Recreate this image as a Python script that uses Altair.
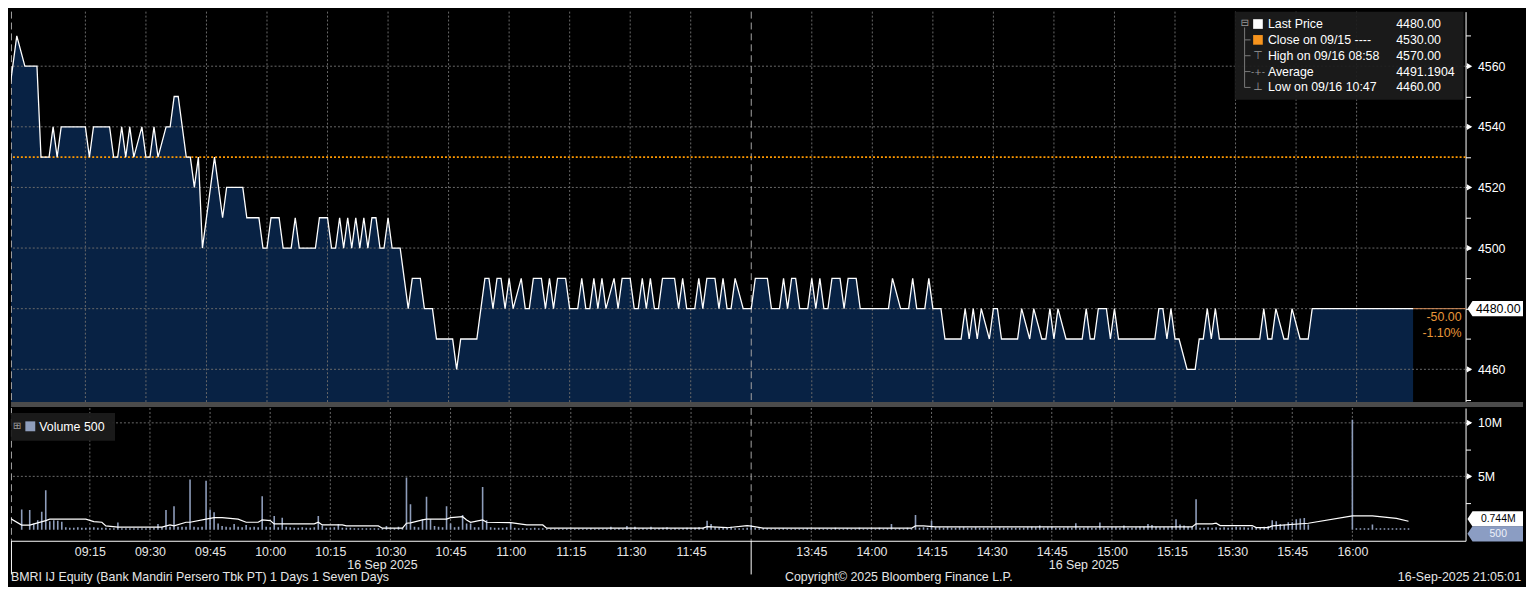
import altair as alt
import pandas as pd

FONT = "Liberation Sans"
SYM = "DejaVu Sans"

# ---------------- price (last price, breakpoints of the 1-minute line) ----------------
am_times = ["08:54", "08:58", "09:00", "09:03", "09:04", "09:06", "09:07", "09:08", "09:09", "09:15",
            "09:16", "09:17", "09:21", "09:22", "09:23", "09:24", "09:25", "09:26", "09:27", "09:29",
            "09:30", "09:31", "09:32", "09:33", "09:35", "09:36", "09:37", "09:38", "09:40", "09:41",
            "09:42", "09:43", "09:44", "09:47", "09:49", "09:50", "09:54", "09:55", "09:58", "09:59",
            "10:00", "10:01", "10:03", "10:04", "10:06", "10:07", "10:08", "10:12", "10:13", "10:15",
            "10:16", "10:17", "10:18", "10:19", "10:20", "10:21", "10:22", "10:23", "10:24", "10:25",
            "10:26", "10:27", "10:28", "10:29", "10:30", "10:31", "10:33", "10:35", "10:36", "10:38",
            "10:39", "10:41", "10:42", "10:46", "10:47", "10:48", "10:52", "10:54", "10:55", "10:56",
            "10:57", "10:58", "10:59", "11:00", "11:01", "11:03", "11:04", "11:05", "11:06", "11:08",
            "11:09", "11:10", "11:11", "11:12", "11:14", "11:15", "11:17", "11:18", "11:19", "11:20",
            "11:21", "11:22", "11:23", "11:24", "11:26", "11:27", "11:28", "11:30", "11:31", "11:32",
            "11:33", "11:34", "11:35", "11:36", "11:37", "11:38", "11:41", "11:42", "11:43", "11:44",
            "11:46", "11:47", "11:48", "11:49", "11:51", "11:52", "11:53", "11:54", "11:55", "11:56",
            "11:58", "11:59"]
am_prices = [4530, 4570, 4560, 4560, 4530, 4530, 4540, 4530, 4540, 4540,
             4530, 4540, 4540, 4530, 4530, 4540, 4530, 4540, 4530, 4540,
             4530, 4530, 4540, 4530, 4540, 4540, 4550, 4550, 4530, 4530,
             4520, 4530, 4500, 4530, 4510, 4520, 4520, 4510, 4510, 4500,
             4500, 4510, 4510, 4500, 4500, 4510, 4500, 4500, 4510, 4510,
             4500, 4500, 4510, 4500, 4510, 4500, 4510, 4500, 4510, 4500,
             4510, 4510, 4500, 4500, 4510, 4500, 4500, 4480, 4490, 4490,
             4480, 4480, 4470, 4470, 4460, 4470, 4470, 4490, 4490, 4480,
             4490, 4490, 4480, 4490, 4480, 4490, 4480, 4480, 4490, 4490,
             4480, 4490, 4480, 4490, 4490, 4480, 4480, 4490, 4480, 4480,
             4490, 4480, 4490, 4480, 4490, 4480, 4490, 4490, 4480, 4480,
             4490, 4480, 4490, 4480, 4480, 4490, 4490, 4480, 4490, 4480,
             4480, 4490, 4480, 4490, 4490, 4480, 4490, 4480, 4480, 4490,
             4480, 4480]
pm_times = ["13:30", "13:31", "13:34", "13:35", "13:37", "13:38", "13:39", "13:40", "13:41", "13:42",
            "13:44", "13:45", "13:46", "13:47", "13:48", "13:49", "13:50", "13:52", "13:53", "13:54",
            "13:56", "13:57", "14:04", "14:05", "14:07", "14:09", "14:10", "14:11", "14:13", "14:14",
            "14:15", "14:17", "14:18", "14:22", "14:23", "14:24", "14:25", "14:26", "14:27", "14:29",
            "14:30", "14:31", "14:32", "14:36", "14:37", "14:39", "14:40", "14:42", "14:43", "14:44",
            "14:45", "14:46", "14:48", "14:52", "14:53", "14:54", "14:55", "14:56", "14:58", "14:59",
            "15:00", "15:01", "15:10", "15:11", "15:12", "15:13", "15:14", "15:15", "15:16", "15:18",
            "15:20", "15:21", "15:22", "15:23", "15:24", "15:25", "15:26", "15:36", "15:37", "15:38",
            "15:39", "15:40", "15:42", "15:43", "15:44", "15:46", "15:48", "15:49", "16:14"]
pm_prices = [4480, 4490, 4490, 4480, 4480, 4490, 4480, 4490, 4490, 4480,
             4480, 4490, 4480, 4490, 4480, 4480, 4490, 4490, 4480, 4490,
             4490, 4480, 4480, 4490, 4480, 4480, 4490, 4480, 4480, 4490,
             4480, 4480, 4470, 4470, 4480, 4470, 4480, 4470, 4480, 4470,
             4480, 4480, 4470, 4470, 4480, 4470, 4480, 4470, 4470, 4480,
             4470, 4480, 4470, 4470, 4480, 4470, 4470, 4480, 4480, 4470,
             4480, 4470, 4470, 4480, 4480, 4470, 4480, 4470, 4470, 4460,
             4460, 4470, 4470, 4480, 4470, 4480, 4470, 4470, 4480, 4470,
             4470, 4480, 4470, 4470, 4480, 4470, 4470, 4480, 4480]
prev_close = 4530
last_price = 4480
last_price_label = "4480.00"
change_texts = ["-50.00", "-1.10%"]

# ---------------- volume (millions of shares per minute) ----------------
vol_am_start = "08:58"
vol_am = [1.9, 0.0,
          1.85, 0.6, 0.9, 1.7, 3.7, 0.8, 0.9, 0.85, 0.75, 0.25, 0.2, 0.2, 0.25, 0.2, 0.2,
          0.2, 0.25, 0.2, 0.2, 0.2, 0.15, 0.15, 0.68, 0.15, 0.15, 0.15, 0.15, 0.15, 0.15, 0.15,
          0.15, 0.2, 0.55, 0.25, 1.85, 0.3, 2.2, 0.3, 0.3, 0.3, 4.7, 0.3, 0.25, 0.3, 4.6,
          1.9, 1.65, 0.6, 0.37, 0.3, 0.25, 0.55, 0.3, 0.25, 0.45, 0.25, 0.3, 0.25, 3.15, 0.3,
          0.25, 1.3, 0.25, 1.14, 0.3, 0.25, 0.2, 0.2, 0.25, 0.2, 0.2, 0.25, 1.3, 0.4, 0.2,
          0.2, 0.25, 0.55, 0.2, 0.2, 0.2, 0.15, 0.15, 0.15, 0.15, 0.15, 0.15, 0.15, 0.15, 0.35,
          0.15, 0.15, 0.3, 0.2, 4.9, 2.4, 0.3, 0.25, 1.0, 3.1, 1.0, 0.35, 0.3, 0.25, 2.2,
          0.6, 0.25, 0.3, 1.4, 0.6, 0.6, 0.25, 0.25, 4.0, 0.9, 0.25, 0.2, 0.2, 0.2, 0.25,
          0.65, 0.2, 0.15, 0.15, 0.15, 0.15, 0.2, 0.15, 0.15, 0.1, 0.1, 0.1, 0.1, 0.1, 0.1,
          0.1, 0.1, 0.1, 0.1, 0.1, 0.15, 0.1, 0.1, 0.1, 0.1, 0.3, 0.1, 0.15, 0.1, 0.35,
          0.1, 0.3, 0.1, 0.15, 0.1, 0.3, 0.1, 0.15, 0.2, 0.25, 0.1, 0.15, 0.1, 0.15, 0.2,
          0.15, 0.2, 0.25, 0.2, 0.86, 0.55, 0.25, 0.2, 0.2, 0.2, 0.3, 0.15, 0.15, 0.15, 0.2]
vol_pm_start = "13:30"
vol_pm = [0.5, 0.2, 0.15, 0.15, 0.15, 0.1, 0.1, 0.1, 0.15, 0.1, 0.1, 0.1, 0.1, 0.1, 0.15,
          0.1, 0.1, 0.15, 0.1, 0.1, 0.1, 0.2, 0.1, 0.1, 0.15, 0.1, 0.1, 0.2, 0.1, 0.1,
          0.15, 0.1, 0.2, 0.1, 0.15, 0.55, 0.1, 0.15, 0.1, 0.2, 0.15, 1.4, 0.2, 0.25, 0.2,
          0.86, 0.25, 0.25, 0.2, 0.25, 0.2, 0.2, 0.25, 0.25, 0.2, 0.2, 0.25, 0.2, 0.2, 0.2,
          0.2, 0.2, 0.25, 0.2, 0.2, 0.2, 0.2, 0.2, 0.2, 0.25, 0.3, 0.25, 0.4, 0.2, 0.25,
          0.3, 0.2, 0.2, 0.2, 0.25, 0.2, 0.62, 0.2, 0.2, 0.25, 0.2, 0.2, 0.68, 0.2, 0.2,
          0.25, 0.25, 0.2, 0.4, 0.2, 0.2, 0.25, 0.3, 0.3, 0.55, 0.45, 0.3, 0.25, 0.25, 0.25,
          0.35, 1.0, 0.5, 0.4, 0.3, 0.3, 2.87, 0.2, 0.2, 0.25, 0.2, 0.25, 0.2, 0.25, 0.2,
          0.2, 0.3, 0.25, 0.25, 0.2, 0.3, 0.2, 0.2, 0.3, 0.35, 0.9, 0.8, 0.55, 0.5, 0.7,
          0.7, 1.0, 1.05, 1.1, 0.5, 0, 0, 0, 0, 0, 0, 0, 0, 0, 0,
          10.3, 0.15, 0.15, 0.15, 0.15, 0.5, 0.15, 0.15, 0.15, 0.15, 0.15, 0.15, 0.15, 0.15, 0.15]

# volume moving-average line (millions)
ma_times = ["08:55", "08:58", "09:00", "09:04", "09:05", "09:14", "09:16", "09:18", "09:19", "09:22",
            "09:33", "09:35", "09:36", "09:39", "09:40", "09:44", "09:46", "09:48", "09:52", "09:54",
            "09:57", "09:58", "10:00", "10:01", "10:11", "10:12", "10:13", "10:18", "10:19", "10:27",
            "10:28", "10:33", "10:34", "10:35", "10:38", "10:39", "10:44", "10:45", "10:48", "10:49",
            "10:50", "10:53", "10:54", "11:00", "11:04", "11:08", "11:09", "11:48", "11:49", "11:54",
            "11:59", "13:30", "13:33", "14:10", "14:11", "14:13", "14:16", "15:20", "15:21", "15:25",
            "15:26", "15:27", "15:35", "15:36", "15:39", "15:40", "15:49", "16:00", "16:05", "16:11", "16:14"]
ma_values = [1.1, 0.45, 0.45, 0.86, 1.0, 1.0, 0.77, 0.71, 0.37, 0.25,
             0.25, 0.46, 0.37, 0.71, 0.71, 1.0, 1.14, 1.14, 1.0, 0.71,
             0.71, 0.93, 0.86, 0.56, 0.56, 0.71, 0.46, 0.46, 0.37, 0.37,
             0.16, 0.16, 0.62, 0.65, 0.93, 1.0, 1.0, 1.14, 1.23, 0.93,
             0.71, 0.93, 0.71, 0.68, 0.46, 0.46, 0.16, 0.16, 0.3, 0.2,
             0.4, 0.35, 0.16, 0.16, 0.37, 0.37, 0.28, 0.28, 0.56, 0.56,
             0.62, 0.4, 0.4, 0.21, 0.21, 0.37, 0.62, 1.3, 1.3, 1.08, 0.8]
ma_last = 0.744
ma_last_label = "0.744M"
last_volume = 0.0005
last_volume_label = "500"

# ---------------- axes / labels ----------------
tick_labels = ["09:15", "09:30", "09:45", "10:00", "10:15", "10:30", "10:45", "11:00", "11:15", "11:30",
               "11:45", "13:45", "14:00", "14:15", "14:30", "14:45", "15:00", "15:15", "15:30", "15:45",
               "16:00"]
session_break = "12:00"
price_grid = [4460, 4480, 4500, 4520, 4540, 4560]
price_ticks = [4450, 4460, 4470, 4480, 4490, 4500, 4510, 4520, 4530, 4540, 4550, 4560, 4570]
price_labeled = [4460, 4500, 4520, 4540, 4560]
vol_grid = [5, 10]
vol_ticks = [2.5, 5, 7.5, 10]
vol_labeled = [5, 10]
vol_label_text = ["5M", "10M"]
date_text = "16 Sep 2025"
date_label_times = ["10:28", "14:53"]
legend_labels = ["Last Price", "Close on 09/15 ----", "High on 09/16 08:58", "Average", "Low on 09/16 10:47"]
legend_values = ["4480.00", "4530.00", "4570.00", "4491.1904", "4460.00"]
volume_legend = "Volume 500"
footer_left = "BMRI IJ Equity (Bank Mandiri Persero Tbk PT) 1 Days 1 Seven Days"
footer_mid = "Copyright\u00a9 2025 Bloomberg Finance L.P."
footer_right = "16-Sep-2025 21:05:01"


def tmin(s):
    h, m = s.split(":")
    return int(h) * 60 + int(m)


def cpos(m):
    # compress the lunch break (12:00 -> 13:30)
    return m - 90 if m >= 810 else m


def tpos(s):
    return cpos(tmin(s))


# ---------------- frames ----------------
price_rows = list(zip(am_times, am_prices)) + list(zip(pm_times, pm_prices))
price_df = pd.DataFrame({"pos": [tpos(t) for t, _ in price_rows], "p": [p for _, p in price_rows]})

vrows = [(cpos(tmin(vol_am_start) + i), v) for i, v in enumerate(vol_am)] + \
        [(cpos(tmin(vol_pm_start) + i), v) for i, v in enumerate(vol_pm)]
vol_df = pd.DataFrame({"pos": [a for a, _ in vrows], "v": [b for _, b in vrows]})
vol_df = vol_df[vol_df["v"] > 0]
ma_df = pd.DataFrame({"pos": [tpos(t) for t in ma_times], "v": ma_values})

tick_pos = [tpos(t) for t in tick_labels]
tick_df = pd.DataFrame({"pos": tick_pos})
break_df = pd.DataFrame({"pos": [tpos(session_break)]})
pgrid_df = pd.DataFrame({"p": price_grid})
plab_df = pd.DataFrame({"p": [v for v in price_labeled if v != last_price]})
close_df = pd.DataFrame({"p": [prev_close]})
last_df = pd.DataFrame({"pos": [price_df["pos"].iloc[-1]], "p": [last_price], "lbl": [last_price_label]})
vgrid_df = pd.DataFrame({"v": vol_grid})
vlab_df = pd.DataFrame({"v": vol_labeled})
malast_df = pd.DataFrame({"v": [ma_last], "lbl": [ma_last_label]})
vlast_df = pd.DataFrame({"v": [last_volume], "lbl": [last_volume_label]})
date_df = pd.DataFrame({"pos": [tpos(t) for t in date_label_times], "t": [date_text] * len(date_label_times)})
one = pd.DataFrame({"a": [0]})

# ---------------- geometry ----------------
W, HP, HV = 1468, 394, 134
XDOM = [536.56, 897.0]
PDOM = [4449.2, 4578.0]
VDOM = [-1.0185, 11.389]
GRID = "#6a6a6a"
SESS = "#a3a3a3"
FILL = "#082244"
VOLC = "#8e9dbb"
ORANGE = "#ff9900"

xs = alt.Scale(domain=XDOM, nice=False, zero=False)
ps = alt.Scale(domain=PDOM, nice=False, zero=False)
vs = alt.Scale(domain=VDOM, nice=False, zero=False)

x_expr = "[" + ",".join("'%s'" % l for l in tick_labels) + "][indexof([" + \
         ",".join(str(p) for p in tick_pos) + "], datum.value)]"
xax = alt.Axis(values=tick_pos, labelExpr=x_expr, domainColor="white", domainWidth=1, ticks=False,
               grid=False, labelColor="#e6e6e6", labelFont=FONT, labelFontSize=12.5, labelPadding=5,
               title=None, labelFlush=False, labelOverlap=False)
p_expr = "indexof([" + ",".join(str(v) for v in price_labeled if v != last_price) + \
         "], datum.value) >= 0 ? datum.label : ''"
pax = alt.Axis(orient="right", values=price_ticks, format="d", labelExpr=p_expr, grid=False,
               domainColor="white", domainWidth=1, tickColor="white", tickSize=5, labelPadding=7,
               labelColor="white", labelFont=FONT, labelFontSize=12.5, title=None, labelOverlap=False,
               labelBaseline="middle")
v_expr = "indexof([" + ",".join(str(v) for v in vol_labeled) + "], datum.value) >= 0 ? [" + \
         ",".join("'%s'" % t for t in vol_label_text) + "][indexof([" + \
         ",".join(str(v) for v in vol_labeled) + "], datum.value)] : ''"
vax = alt.Axis(orient="right", values=vol_ticks, labelExpr=v_expr, grid=False, domainColor="white",
               domainWidth=1, tickColor="white", tickSize=5, labelPadding=7, labelColor="white",
               labelFont=FONT, labelFontSize=12.5, title=None, labelOverlap=False, labelBaseline="middle")


def XP():
    return alt.X("pos:Q", scale=xs, axis=None)


def XV():
    return alt.X("pos:Q", scale=xs, axis=xax)


def YP():
    return alt.Y("p:Q", scale=ps, axis=pax)


def YV():
    return alt.Y("v:Q", scale=vs, axis=vax, stack=None)


def txt(text, x, y, color="white", size=12.5, align="left", font=FONT):
    return alt.Chart(one).mark_text(font=font, fontSize=size, color=color, align=align,
                                    baseline="middle").encode(
        x=alt.value(x), y=alt.value(y), text=alt.value(text))


def hrule(x1, x2, y, color, width=1):
    return alt.Chart(one).mark_rule(color=color, strokeWidth=width).encode(
        x=alt.value(x1), x2=alt.value(x2), y=alt.value(y))


BOX = "M-1.2,0 L-1,-0.3 L1,-0.3 L1,0.3 L-1,0.3 Z"

# ---------------- price panel ----------------
p_layers = [
    alt.Chart(price_df).mark_area(color=FILL, clip=True).encode(x=XP(), y=YP(), y2=alt.value(HP)),
    alt.Chart(tick_df).mark_rule(color=GRID, strokeDash=[2, 2], strokeWidth=1).encode(x=XP()),
    alt.Chart(pgrid_df).mark_rule(color=GRID, strokeDash=[2, 2], strokeWidth=1).encode(y=YP()),
    alt.Chart(break_df).mark_rule(color=SESS, strokeDash=[7, 4], strokeWidth=1).encode(x=XP()),
    alt.Chart(one).mark_rule(color=SESS, strokeDash=[7, 4], strokeWidth=1).encode(
        x=alt.value(0.5), y=alt.value(0), y2=alt.value(HP)),
    alt.Chart(close_df).mark_rule(color=ORANGE, strokeDash=[2, 2], strokeWidth=2).encode(y=YP()),
    alt.Chart(price_df).mark_line(color="white", strokeWidth=1.3, clip=True).encode(x=XP(), y=YP()),
    alt.Chart(last_df).mark_rule(color="#d9915c", strokeWidth=1).encode(x=XP(), x2=alt.value(W), y=YP()),
    alt.Chart(plab_df).mark_point(shape="triangle-right", filled=True, size=40, color="white",
                                  opacity=1).encode(x=alt.value(W + 4), y=YP()),
    alt.Chart(last_df).mark_point(shape=BOX, filled=True, color="white", size=2601, opacity=1,
                                  strokeWidth=0).encode(x=alt.value(1500.5), y=YP()),
    alt.Chart(last_df).mark_text(font=FONT, fontSize=12.5, color="black", align="center",
                                 baseline="middle").encode(x=alt.value(1501), y=YP(), text="lbl:N"),
    txt(change_texts[0], 1464, 308, color="#e8973a", align="right"),
    txt(change_texts[1], 1464, 324, color="#e8973a", align="right"),
    # legend panel
    alt.Chart(one).mark_rect(color="#1c1c1c", opacity=0.93).encode(
        x=alt.value(1235), x2=alt.value(1466), y=alt.value(0), y2=alt.value(89)),
    alt.Chart(one).mark_rule(color="#7a7a7a", strokeWidth=1).encode(
        x=alt.value(1245), y=alt.value(16), y2=alt.value(76.5)),
    txt("\u229f", 1245, 11.5, color="#9a9a9a", size=10, align="center", font=SYM),
]
row_y = [12.5 + 16 * i for i in range(len(legend_labels))]
for i in range(1, len(legend_labels)):
    p_layers.append(hrule(1245, 1251, row_y[i], "#7a7a7a"))
for i, (lab, val) in enumerate(zip(legend_labels, legend_values)):
    p_layers.append(txt(lab, 1268.5, row_y[i]))
    p_layers.append(txt(val, 1398, row_y[i]))
p_layers.append(alt.Chart(one).mark_square(size=95, color="white", opacity=1).encode(
    x=alt.value(1258.5), y=alt.value(row_y[0])))
p_layers.append(alt.Chart(one).mark_square(size=95, color="#f7941d", opacity=1).encode(
    x=alt.value(1258.5), y=alt.value(row_y[1])))
p_layers.append(txt("\u22a4", 1258.5, row_y[2], color="#9a9a9a", size=11, align="center", font=SYM))
p_layers.append(txt("-+-", 1258.5, row_y[3], color="#9a9a9a", size=9, align="center", font=SYM))
p_layers.append(txt("\u22a5", 1258.5, row_y[4], color="#9a9a9a", size=11, align="center", font=SYM))
# separator band between the panels
p_layers.append(hrule(0, 1526, HP + 2.5, "#4b4b4b", 5))

price_chart = alt.layer(*p_layers).properties(width=W, height=HP)

# ---------------- volume panel ----------------
v_layers = [
    alt.Chart(tick_df).mark_rule(color=GRID, strokeDash=[2, 2], strokeWidth=1).encode(x=XV()),
    alt.Chart(vgrid_df).mark_rule(color=GRID, strokeDash=[2, 2], strokeWidth=1).encode(y=YV()),
    alt.Chart(break_df).mark_rule(color=SESS, strokeDash=[7, 4], strokeWidth=1).encode(x=XV()),
    alt.Chart(one).mark_rule(color=SESS, strokeDash=[7, 4], strokeWidth=1).encode(
        x=alt.value(0.5), y=alt.value(0), y2=alt.value(HV)),
    alt.Chart(vol_df).mark_bar(width=1.6, color=VOLC, clip=True).encode(x=XV(), y=YV()),
    alt.Chart(ma_df).mark_line(color="white", strokeWidth=1.2, clip=True).encode(x=XV(), y=YV()),
    alt.Chart(vlab_df).mark_point(shape="triangle-right", filled=True, size=40, color="white",
                                  opacity=1).encode(x=alt.value(W + 4), y=YV()),
    alt.Chart(malast_df).mark_point(shape=BOX, filled=True, color="white", size=2601, opacity=1,
                                    strokeWidth=0, yOffset=-3).encode(x=alt.value(1500.5), y=YV()),
    alt.Chart(malast_df).mark_text(font=FONT, fontSize=10.5, color="black", align="center",
                                   baseline="middle", yOffset=-3).encode(
        x=alt.value(1501), y=YV(), text="lbl:N"),
    alt.Chart(vlast_df).mark_point(shape=BOX, filled=True, color="#8b9dc3", size=2601, opacity=1,
                                   strokeWidth=0, yOffset=4).encode(x=alt.value(1500.5), y=YV()),
    alt.Chart(vlast_df).mark_text(font=FONT, fontSize=10.5, color="#eef2fa", align="center",
                                  baseline="middle", yOffset=4).encode(x=alt.value(1501), y=YV(),
                                                                       text="lbl:N"),
    # volume legend
    alt.Chart(one).mark_rect(color="#1c1c1c", opacity=0.93).encode(
        x=alt.value(0), x2=alt.value(105), y=alt.value(5), y2=alt.value(33)),
    txt("\u229e", 6, 18.5, color="#9a9a9a", size=10, align="center", font=SYM),
    alt.Chart(one).mark_square(size=100, color=VOLC, opacity=1).encode(x=alt.value(19.5), y=alt.value(18.5)),
    txt(volume_legend, 28.5, 19),
    # date labels and session marks under the axis
    alt.Chart(date_df).mark_text(font=FONT, fontSize=12.5, color="#e6e6e6", align="center",
                                 baseline="middle").encode(x=XV(), y=alt.value(158), text="t:N"),
    alt.Chart(break_df).mark_rule(color="white", strokeWidth=1).encode(
        x=XV(), y=alt.value(HV), y2=alt.value(168)),
    alt.Chart(one).mark_rule(color="white", strokeWidth=1).encode(
        x=alt.value(0.5), y=alt.value(HV), y2=alt.value(168)),
    # footer
    txt(footer_left, 0, 171, color="#e6e6e6"),
    txt(footer_mid, 896, 171, color="#e6e6e6", align="center"),
    txt(footer_right, 1524, 171, color="#e6e6e6", align="right"),
]
volume_chart = alt.layer(*v_layers).properties(width=W, height=HV)

chart = alt.vconcat(price_chart, volume_chart, spacing=0).properties(
    background="#000000", padding=0
).configure_view(stroke=None)

chart.save("out.html", embed_options={"renderer": "svg", "actions": False})
